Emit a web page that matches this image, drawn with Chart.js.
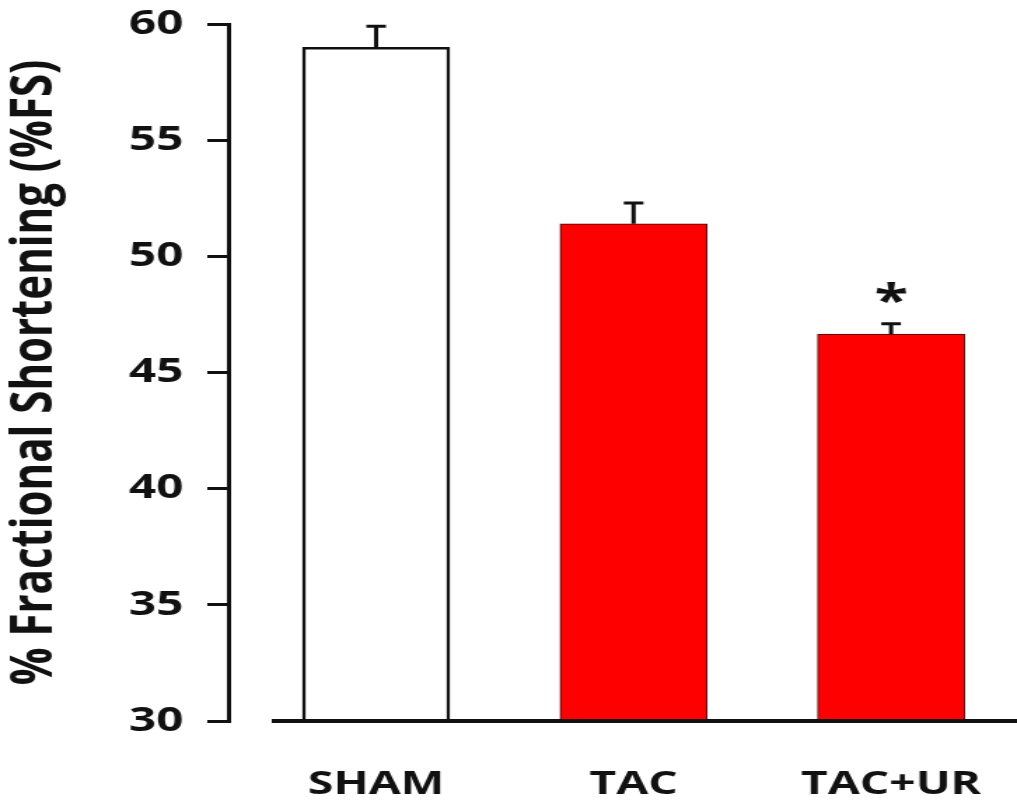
<!DOCTYPE html>
<html>
<head>
<meta charset="utf-8">
<script src="https://cdn.jsdelivr.net/npm/chart.js@4.4.1/dist/chart.umd.min.js"></script>
<style>
    html, body { margin: 0; padding: 0; background: #fff; overflow: hidden; }
    /* the source figure is stretched sideways, so the canvas is too */
    #wrap { width: 726px; height: 800px; transform: scaleX(1.4008); transform-origin: 0 0; }
</style>
</head>
<body>
<div id="wrap"><canvas id="fsChart" width="726" height="800"></canvas></div>
<script>
    // data
    var categories = ['SHAM', 'TAC', 'TAC+UR'];
    var fsMean = [59.0, 51.4, 46.65];
    var fsSem = [0.9, 0.9, 0.45];
    var significance = ['', '', '*'];
    var yMin = 30, yMax = 60, yStep = 5;

    var ink = '#111';

    var errorBars = {
        id: 'errorBars',
        afterDatasetsDraw: function(chart) {
            var ctx = chart.ctx;
            var y = chart.scales.y;
            var area = chart.chartArea;
            var meta = chart.getDatasetMeta(0);
            ctx.save();
            //x axis line, starts a little right of the y axis
            ctx.strokeStyle = ink;
            ctx.lineWidth = 4;
            ctx.beginPath();
            ctx.moveTo(area.left + 31, area.bottom);
            ctx.lineTo(area.right, area.bottom);
            ctx.stroke();

            meta.data.forEach(function(bar, i) {
                var top = y.getPixelForValue(fsMean[i] + fsSem[i]);
                ctx.lineWidth = 3;
                ctx.beginPath();
                ctx.moveTo(bar.x, bar.y);
                ctx.lineTo(bar.x, top);
                ctx.moveTo(bar.x - 7, top);
                ctx.lineTo(bar.x + 7, top);
                ctx.stroke();
                if (significance[i]) {
                    ctx.fillStyle = ink;
                    ctx.font = 'bold 44px "Open Sans"';
                    ctx.textAlign = 'center';
                    ctx.textBaseline = 'alphabetic';
                    var m = ctx.measureText(significance[i]);
                    var cy = top - 31;
                    ctx.fillText(significance[i], bar.x, cy + (m.actualBoundingBoxAscent - m.actualBoundingBoxDescent) / 2);
                }
            });
            ctx.restore();
        }
    };

    new Chart(document.getElementById('fsChart'), {
        type: 'bar',
        data: {
            datasets: [{
                data: categories.map(function(c, i) { return { x: i, y: fsMean[i] }; }),
                backgroundColor: ['#ffffff', '#ff0000', '#ff0000'],
                borderColor: [ink, '#3a0a0a', '#3a0a0a'],
                borderWidth: [2.5, 1, 1],
                barThickness: 105
            }]
        },
        options: {
            responsive: false,
            animation: false,
            layout: { padding: { top: 24, right: 0, bottom: 0, left: 0 } },
            plugins: {
                legend: { display: false },
                tooltip: { enabled: false }
            },
            scales: {
                x: {
                    type: 'linear',
                    offset: false,
                    min: -0.574,
                    max: 2.489,
                    grid: { display: false, drawTicks: false, offset: false },
                    border: { display: false },
                    afterBuildTicks: function(scale) {
                        scale.ticks = categories.map(function(c, i) { return { value: i }; });
                    },
                    afterFit: function(scale) {
                        scale.height = 79;
                        scale.paddingLeft = 0;
                        scale.paddingRight = 0;
                    },
                    ticks: {
                        autoSkip: false,
                        maxRotation: 0,
                        padding: 44,
                        color: ink,
                        font: { family: '"Open Sans"', size: 33, weight: 'bold' },
                        callback: function(v) { return categories[v]; }
                    }
                },
                y: {
                    min: yMin,
                    max: yMax,
                    grid: { display: true, drawOnChartArea: false, drawTicks: true, tickLength: 15, color: ink, lineWidth: 3 },
                    border: { display: true, color: ink, width: 3 },
                    afterFit: function(scale) {
                        scale.width = 163;
                        scale.paddingTop = 0;
                        scale.paddingBottom = 0;
                    },
                    ticks: {
                        stepSize: yStep,
                        padding: 17,
                        color: ink,
                        font: { family: '"Open Sans"', size: 34, weight: 'bold' }
                    },
                    title: {
                        display: true,
                        text: '% Fractional Shortening (%FS)',
                        color: ink,
                        padding: { top: 0, bottom: 0 },
                        font: { family: '"Open Sans"', size: 42, weight: 'bold' }
                    }
                }
            }
        },
        plugins: [errorBars]
    });
</script>
</body>
</html>
